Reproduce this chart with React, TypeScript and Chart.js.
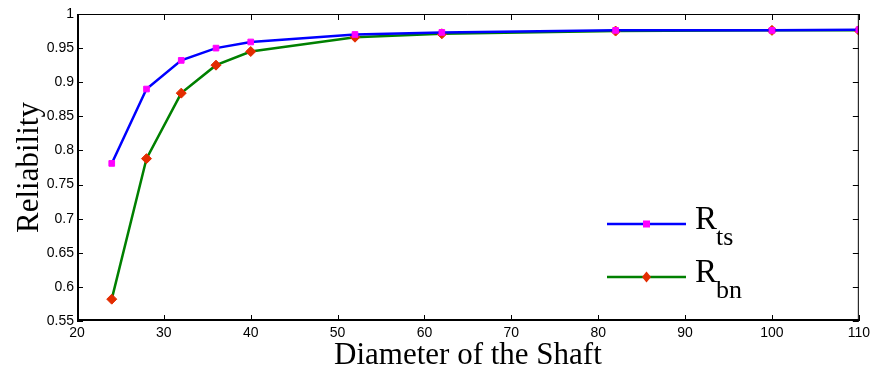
import React, { useEffect, useRef } from "react";
import { Chart, registerables } from "chart.js";

Chart.register(...registerables);

const diameters = [24, 28, 32, 36, 40, 52, 62, 82, 100, 110];
const rts = [0.781, 0.890, 0.932, 0.950, 0.959, 0.970, 0.973, 0.976, 0.976, 0.977];
const rbn = [0.582, 0.788, 0.884, 0.925, 0.945, 0.966, 0.971, 0.975, 0.976, 0.976];
const xTitle = "Diameter of the Shaft";
const yTitle = "Reliability";
const legendItems = [
  { main: "R", sub: "ts" },
  { main: "R", sub: "bn" },
];

const frameAndText = {
  id: "frameAndText",
  afterDatasetsDraw(chart: any) {
    const { ctx, chartArea, scales } = chart;
    const { left, right, top, bottom } = chartArea;
    const xs = scales.x;
    const ys = scales.y;
    ctx.save();
    ctx.strokeStyle = "#000";
    ctx.lineWidth = 1;
    ctx.beginPath();
    ctx.moveTo(left, top + 0.5);
    ctx.lineTo(right, top + 0.5);
    ctx.moveTo(right - 0.5, top);
    ctx.lineTo(right - 0.5, bottom);
    ctx.stroke();
    ctx.lineWidth = 2;
    ctx.beginPath();
    ctx.moveTo(left + 1, top);
    ctx.lineTo(left + 1, bottom);
    ctx.moveTo(left, bottom - 1);
    ctx.lineTo(right, bottom - 1);
    ctx.stroke();
    ctx.lineWidth = 1;
    ctx.beginPath();
    const tl = 6;
    xs.ticks.forEach((t: any) => {
      const px = Math.round(xs.getPixelForValue(t.value)) + 0.5;
      ctx.moveTo(px, bottom);
      ctx.lineTo(px, bottom - tl);
      ctx.moveTo(px, top);
      ctx.lineTo(px, top + tl);
    });
    ys.ticks.forEach((t: any) => {
      const py = Math.round(ys.getPixelForValue(t.value)) + 0.5;
      ctx.moveTo(left, py);
      ctx.lineTo(left + tl, py);
      ctx.moveTo(right, py);
      ctx.lineTo(right - tl, py);
    });
    ctx.stroke();

    ctx.fillStyle = "#000";
    ctx.font = "31px 'Liberation Serif', 'Times New Roman', serif";
    ctx.textAlign = "center";
    ctx.textBaseline = "alphabetic";
    ctx.fillText(xTitle, (left + right) / 2, 364);
    ctx.save();
    ctx.translate(38, (top + bottom) / 2);
    ctx.rotate(-Math.PI / 2);
    ctx.fillText(yTitle, 0, 0);
    ctx.restore();

    const datasets = chart.data.datasets;
    const rows = [224, 277];
    legendItems.forEach((item, i) => {
      const ds = datasets[i];
      const y = rows[i];
      ctx.strokeStyle = ds.borderColor;
      ctx.lineWidth = 2.5;
      ctx.beginPath();
      ctx.moveTo(607, y);
      ctx.lineTo(686, y);
      ctx.stroke();
      ctx.fillStyle = ds.pointBackgroundColor;
      const cx = 646.5;
      if (ds.pointStyle === "rect") {
        ctx.fillRect(cx - 3.5, y - 3.5, 7, 7);
      } else {
        ctx.beginPath();
        ctx.moveTo(cx, y - 5.5);
        ctx.lineTo(cx + 4.5, y);
        ctx.lineTo(cx, y + 5.5);
        ctx.lineTo(cx - 4.5, y);
        ctx.closePath();
        ctx.fill();
      }
      ctx.fillStyle = "#000";
      ctx.textAlign = "left";
      ctx.font = "33px 'Liberation Serif', 'Times New Roman', serif";
      ctx.fillText(item.main, 695, y + 5);
      ctx.font = "26px 'Liberation Serif', 'Times New Roman', serif";
      ctx.fillText(item.sub, 716, y + 21);
    });
    ctx.restore();
  },
};

export default function App() {
  const ref = useRef<HTMLCanvasElement>(null);
  useEffect(() => {
    if (!ref.current) return;
    const tickFont = { family: "'Liberation Sans', Arial, sans-serif", size: 14 };
    const chart = new Chart(ref.current, {
      type: "line",
      data: {
        datasets: [
          {
            label: "Rts",
            data: diameters.map((d, i) => ({ x: d, y: rts[i] })),
            borderColor: "#0000ff",
            borderWidth: 2.5,
            pointStyle: "rect",
            pointRadius: 4,
            pointBackgroundColor: "#ff00ff",
            pointBorderColor: "#ff00ff",
            pointBorderWidth: 1,
            tension: 0,
          },
          {
            label: "Rbn",
            data: diameters.map((d, i) => ({ x: d, y: rbn[i] })),
            borderColor: "#008000",
            borderWidth: 2.5,
            pointStyle: "rectRot",
            pointRadius: 5,
            pointBackgroundColor: "#e32c00",
            pointBorderColor: "#e32c00",
            pointBorderWidth: 1,
            tension: 0,
          },
        ],
      },
      options: {
        animation: false,
        responsive: false,
        maintainAspectRatio: false,
        layout: { padding: { left: 0, right: 14, top: 14, bottom: 0 } },
        plugins: { legend: { display: false }, tooltip: { enabled: false } },
        scales: {
          x: {
            type: "linear",
            min: 20,
            max: 110,
            grid: { display: false, drawTicks: false },
            border: { display: false },
            ticks: { stepSize: 10, color: "#000", font: tickFont, padding: 4, maxRotation: 0 },
            afterFit: (s: any) => { s.height = 51; },
          },
          y: {
            min: 0.55,
            max: 1,
            grid: { display: false, drawTicks: false },
            border: { display: false },
            ticks: {
              stepSize: 0.05,
              color: "#000",
              font: tickFont,
              padding: 3,
              callback: (v: any) => String(Math.round(Number(v) * 100) / 100),
            },
            afterFit: (s: any) => { s.width = 77; },
          },
        },
      },
      plugins: [frameAndText],
    });
    return () => chart.destroy();
  }, []);
  return (
    <div style={{ position: "fixed", left: 0, top: 0, width: 874, height: 372, background: "#fff" }}>
      <canvas ref={ref} width={874} height={372} style={{ width: 874, height: 372 }} />
    </div>
  );
}
